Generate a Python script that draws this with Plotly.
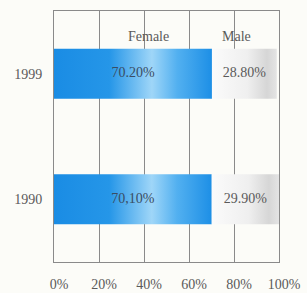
import plotly.graph_objects as go

years = ["1990", "1999"]
female = [70.1, 70.2]
male = [29.9, 28.8]
female_labels = ["70,10%", "70.20%"]
male_labels = ["29.90%", "28.80%"]
series_names = ["Female", "Male"]
tick_vals = [0, 20, 40, 60, 80, 100]
tick_text = ["0%", "20%", "40%", "60%", "80%", "100%"]

FONT = "Liberation Serif, Times New Roman, DejaVu Serif, serif"
TXT = "#5a5a5a"
half = 0.2

fig = go.Figure()

blue_scale = [[0, "#1a8ce4"], [0.35, "#2596e8"], [0.62, "#9fd6f8"], [0.78, "#52b0f0"], [1, "#1d8fe6"]]
gray_scale = [[0, "#fbfbfb"], [0.55, "#efefef"], [0.85, "#d6d6d6"], [1, "#e4e4e4"]]

for i, y in enumerate(years):
    f = female[i]
    m = male[i]
    fig.add_trace(go.Scatter(
        x=[0, f, f, 0, 0], y=[i - half, i - half, i + half, i + half, i - half],
        mode="lines", fill="toself", line=dict(width=0),
        fillgradient=dict(type="horizontal", colorscale=blue_scale),
        hoverinfo="skip", showlegend=False))
    fig.add_trace(go.Scatter(
        x=[f, f + m, f + m, f, f], y=[i - half, i - half, i + half, i + half, i - half],
        mode="lines", fill="toself", line=dict(width=0),
        fillgradient=dict(type="horizontal", colorscale=gray_scale),
        hoverinfo="skip", showlegend=False))

fig.add_trace(go.Scatter(
    x=[f / 2 for f in female], y=list(range(len(years))), mode="text",
    text=female_labels, textfont=dict(family=FONT, size=14, color="#3a4c63"),
    hoverinfo="skip", showlegend=False))
fig.add_trace(go.Scatter(
    x=[f + m / 2 for f, m in zip(female, male)], y=list(range(len(years))), mode="text",
    text=male_labels, textfont=dict(family=FONT, size=14, color=TXT),
    hoverinfo="skip", showlegend=False))

fig.add_annotation(x=42, y=1.3, text=series_names[0], showarrow=False,
                   font=dict(family=FONT, size=14, color=TXT))
fig.add_annotation(x=81, y=1.3, text=series_names[1], showarrow=False,
                   font=dict(family=FONT, size=14, color=TXT))

fig.update_layout(
    width=307, height=293,
    margin=dict(l=54, r=28, t=11, b=31),
    paper_bgcolor="#fcfcf8", plot_bgcolor="#fcfcf8",
    font=dict(family=FONT, size=14, color=TXT),
    xaxis=dict(range=[0, 100], tickvals=tick_vals, ticktext=tick_text,
               showgrid=True, gridcolor="#8a8a8a", gridwidth=1,
               showline=True, linecolor="#8a8a8a", mirror=True,
               ticks="outside", ticklen=9, tickcolor="rgba(0,0,0,0)",
               ticklabelshift=5,
               zeroline=False, fixedrange=True, automargin=False),
    yaxis=dict(range=[-0.5, 1.5], tickvals=[0, 1], ticktext=years,
               showgrid=False, showline=True, linecolor="#8a8a8a", mirror=True,
               ticks="outside", ticklen=8, tickcolor="rgba(0,0,0,0)",
               zeroline=False, fixedrange=True, automargin=False),
)

fig.write_html("out.html", config={"displayModeBar": False},
               post_script="document.body.style.margin='0';document.body.style.background='#fcfcf8';")
